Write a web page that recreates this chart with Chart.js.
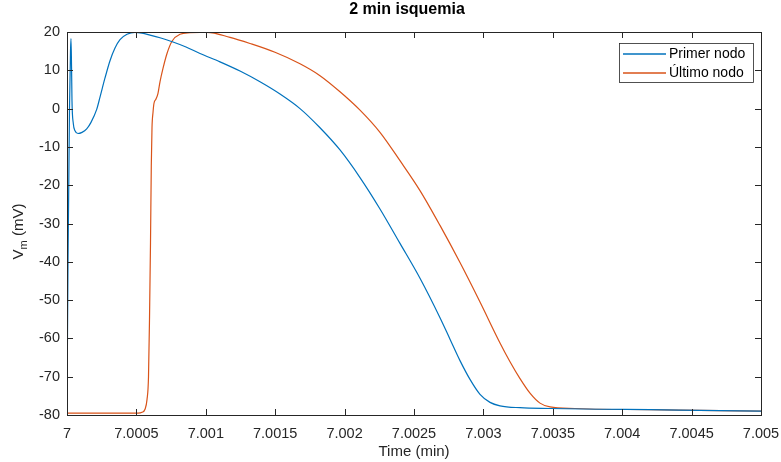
<!DOCTYPE html>
<html>
<head>
<meta charset="utf-8">
<script src="https://cdn.jsdelivr.net/npm/chart.js@4.4.0/dist/chart.umd.min.js"></script>
<style>
  body { margin: 0; background: #fff; }
  #wrap { width: 781px; height: 462px; }
</style>
</head>
<body>
<div id="wrap"><canvas id="vm_chart" width="781" height="462"></canvas></div>
<script>
const titulo = "2 min isquemia";
const etiquetas = ["Primer nodo", "Último nodo"];

const tiempoPrimer = [7, 7.0000072, 7.000018, 7.0000252, 7.0000288, 7.0000331, 7.000036, 7.0000454,
  7.0000576, 7.0000793, 7.0001081, 7.0001419, 7.0001729, 7.000214, 7.0002378, 7.0002738, 7.0003098,
  7.0003458, 7.0003818, 7.0004323, 7.0004899, 7.0005403, 7.000598, 7.00067, 7.0007637, 7.0008573,
  7.0009582, 7.0011023, 7.0012464, 7.0013905, 7.0015346, 7.0016787, 7.0018228, 7.0019669, 7.002111,
  7.002255, 7.0023991, 7.0025432, 7.0026873, 7.0027594, 7.0028314, 7.0029035, 7.0029755, 7.0030476,
  7.0031196, 7.0032637, 7.0034798, 7.0038401, 7.0042003, 7.0045605, 7.005];
const vmPrimer = [-78, -40, 0, 15, 18.3, 10, 2, -3.9,
  -5.8, -6.5, -6.2, -5.3, -3.6, -0.2, 3.0, 8.0, 12.5,
  15.8, 18.0, 19.4, 19.9, 19.7, 19.2, 18.5, 17.4, 16.1,
  14.4, 12.2, 9.8, 7.0, 3.8, 0, -5, -10.8, -18,
  -26.2, -35.2, -44.3, -54.6, -60.2, -65.8, -70.7, -74.6, -76.7,
  -77.6, -78.1, -78.3, -78.5, -78.6, -78.8, -79];

const tiempoUltimo = [7, 7.0005115, 7.0005403, 7.000562, 7.0005764, 7.0005872, 7.0005944, 7.0006016,
  7.0006073, 7.0006124, 7.0006196, 7.0006268, 7.0006412, 7.0006556, 7.00067, 7.0006916, 7.0007205,
  7.0007565, 7.0008141, 7.0008862, 7.0009582, 7.0010086, 7.0011743, 7.0013184, 7.0014986, 7.0016787,
  7.0018228, 7.0019669, 7.002111, 7.002255, 7.0023991, 7.0025432, 7.0026873, 7.0028314, 7.0029755,
  7.0031196, 7.0031917, 7.0032637, 7.0033357, 7.0034078, 7.0034798, 7.0036599, 7.0038401, 7.0042003,
  7.0045605, 7.005];
const vmUltimo = [-79.5, -79.5, -79.3, -78.5, -76, -70, -55, -35,
  -15, -5, -1, 1.4, 2.5, 4, 7, 10.5, 14.4,
  17.6, 19.4, 19.8, 19.9, 19.9, 18.6, 17.0, 14.7, 11.7,
  8.6, 4.4, -0.4, -6.2, -13.6, -21.4, -30.5, -40.2, -50.5,
  -61.2, -66.1, -70.5, -74.3, -76.9, -77.9, -78.3, -78.5, -78.6,
  -78.8, -79];

const colores = ["#0072BD", "#D95319"];
const ejeColor = "#262626";

// caja estilo matlab: borde, ticks hacia dentro, titulo, leyenda, ylabel con subindice
const cajaMatlab = {
  id: "cajaMatlab",
  beforeDraw(chart) {
    const ctx = chart.ctx;
    ctx.save();
    ctx.fillStyle = "#fff";
    ctx.fillRect(0, 0, chart.width, chart.height);
    ctx.restore();
  },
  afterDraw(chart) {
    const ctx = chart.ctx;
    const a = chart.chartArea;
    const sx = chart.scales.x, sy = chart.scales.y;
    const tl = 6;
    ctx.save();
    ctx.strokeStyle = ejeColor;
    ctx.lineWidth = 1;
    ctx.strokeRect(Math.round(a.left) + 0.5, Math.round(a.top) + 0.5,
      Math.round(a.right - a.left), Math.round(a.bottom - a.top));
    ctx.beginPath();
    sx.ticks.forEach((t) => {
      const p = Math.round(sx.getPixelForValue(t.value)) + 0.5;
      ctx.moveTo(p, a.bottom); ctx.lineTo(p, a.bottom - tl);
      ctx.moveTo(p, a.top); ctx.lineTo(p, a.top + tl);
    });
    sy.ticks.forEach((t) => {
      const p = Math.round(sy.getPixelForValue(t.value)) + 0.5;
      ctx.moveTo(a.left, p); ctx.lineTo(a.left + tl, p);
      ctx.moveTo(a.right, p); ctx.lineTo(a.right - tl, p);
    });
    ctx.stroke();

    // titulo
    ctx.fillStyle = "#000";
    ctx.font = "bold 16px 'Liberation Sans', Arial, sans-serif";
    ctx.textAlign = "center";
    ctx.textBaseline = "middle";
    ctx.fillText(titulo, (a.left + a.right) / 2 - 7, 10);

    // ylabel V_m (mV)
    ctx.save();
    ctx.translate(19, (a.top + a.bottom) / 2 + 8);
    ctx.rotate(-Math.PI / 2);
    ctx.fillStyle = ejeColor;
    ctx.textAlign = "left";
    ctx.textBaseline = "middle";
    const f1 = "15px 'Liberation Sans', Arial, sans-serif";
    const f2 = "11px 'Liberation Sans', Arial, sans-serif";
    ctx.font = f1;
    const wV = ctx.measureText("V").width;
    ctx.font = f2;
    const wm = ctx.measureText("m").width;
    ctx.font = f1;
    const wr = ctx.measureText(" (mV)").width;
    let x0 = -(wV + wm + wr) / 2;
    ctx.fillText("V", x0, 0);
    ctx.font = f2;
    ctx.fillText("m", x0 + wV, 5);
    ctx.font = f1;
    ctx.fillText(" (mV)", x0 + wV + wm, 0);
    ctx.restore();

    // leyenda
    const lx1 = a.right - 8, lx0 = lx1 - 134, ly0 = a.top + 11, ly1 = ly0 + 39;
    ctx.fillStyle = "#fff";
    ctx.fillRect(lx0, ly0, lx1 - lx0, ly1 - ly0);
    ctx.strokeStyle = ejeColor;
    ctx.lineWidth = 0.8;
    ctx.strokeRect(Math.round(lx0) + 0.5, Math.round(ly0) + 0.5, Math.round(lx1 - lx0), Math.round(ly1 - ly0));
    ctx.font = "14px 'Liberation Sans', Arial, sans-serif";
    ctx.textAlign = "left";
    ctx.textBaseline = "middle";
    chart.data.datasets.forEach((ds, i) => {
      const yy = ly0 + 11 + i * 19;
      ctx.strokeStyle = ds.borderColor;
      ctx.lineWidth = 1.3;
      ctx.beginPath();
      ctx.moveTo(lx0 + 4, yy);
      ctx.lineTo(lx0 + 47, yy);
      ctx.stroke();
      ctx.fillStyle = "#000";
      ctx.fillText(ds.label, lx0 + 50, yy);
    });
    ctx.restore();
  },
};

const data = {
  datasets: [
    {
      label: etiquetas[0],
      data: tiempoPrimer.map((t, i) => ({ x: t, y: vmPrimer[i] })),
      borderColor: colores[0],
    },
    {
      label: etiquetas[1],
      data: tiempoUltimo.map((t, i) => ({ x: t, y: vmUltimo[i] })),
      borderColor: colores[1],
    },
  ],
};

const config = {
  type: "line",
  data,
  options: {
    responsive: false,
    animation: false,
    layout: { padding: { top: 32, right: 20, left: 0, bottom: 0 } },
    elements: {
      point: { radius: 0 },
      line: { borderWidth: 1.2, cubicInterpolationMode: "monotone", fill: false },
    },
    plugins: {
      legend: { display: false },
      title: { display: false },
      tooltip: { enabled: false },
    },
    scales: {
      x: {
        type: "linear",
        min: 7,
        max: 7.005,
        grid: { display: false, drawTicks: false },
        border: { display: false },
        ticks: {
          stepSize: 0.0005,
          padding: 10,
          color: ejeColor,
          font: { size: 14.5, family: "'Liberation Sans', Arial, sans-serif" },
          maxRotation: 0,
          callback: (v) => String(+v.toFixed(4)),
        },
        title: {
          display: true,
          text: "Time (min)",
          color: ejeColor,
          padding: { top: 0, bottom: 1 },
          font: { size: 15, family: "'Liberation Sans', Arial, sans-serif" },
        },
        afterFit: (s) => { s.height = 47; s.paddingLeft = 0; s.paddingRight = 0; },
      },
      y: {
        min: -80,
        max: 20,
        grid: { display: false, drawTicks: false },
        border: { display: false },
        ticks: {
          stepSize: 10,
          padding: 7,
          color: ejeColor,
          font: { size: 14.5, family: "'Liberation Sans', Arial, sans-serif" },
        },
        afterFit: (s) => { s.width = 67; s.paddingTop = 0; s.paddingBottom = 0; },
      },
    },
  },
  plugins: [cajaMatlab],
};

const vm_chart = new Chart(document.getElementById("vm_chart"), config);
</script>
</body>
</html>
